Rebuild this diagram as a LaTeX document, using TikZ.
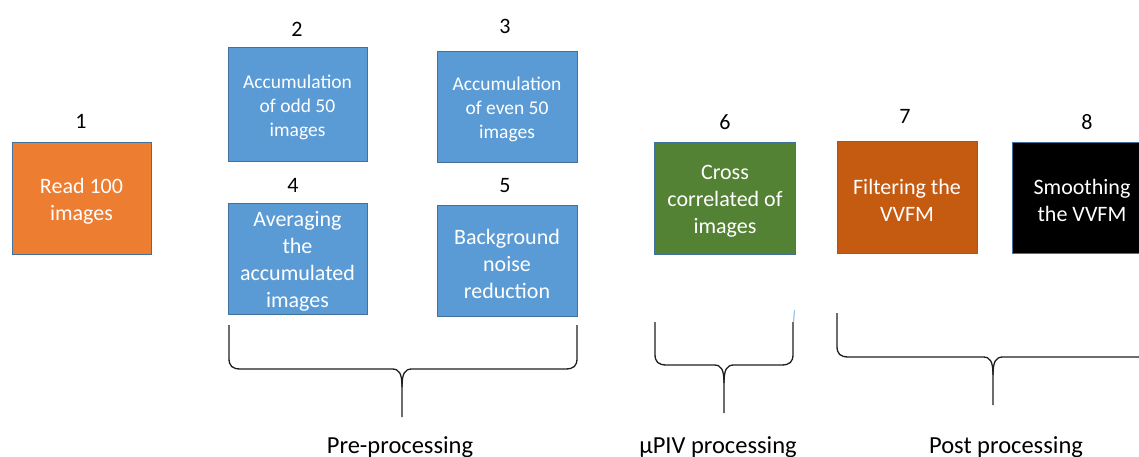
\documentclass[tikz,border=0pt]{standalone}
\usepackage{fontspec}
\setmainfont{Carlito}
\definecolor{cOrange}{HTML}{ED7D31}
\definecolor{cBlue}{HTML}{5B9BD5}
\definecolor{cGreen}{HTML}{548235}
\definecolor{cRust}{HTML}{C55A11}
\definecolor{cEdge}{HTML}{41719C}
\definecolor{cTick}{HTML}{9DC3E6}
\definecolor{cLine}{HTML}{1E1E1E}
\tikzset{
  procbox/.style={draw=cEdge, line width=0.9pt, inner sep=0pt, outer sep=0pt},
  boxtext/.style={text=white, align=center, inner sep=0pt, yshift=-3pt,
    font=\fontsize{22}{27}\selectfont},
  smalltext/.style={boxtext, font=\fontsize{19.5}{24}\selectfont},
  numlabel/.style={anchor=base, inner sep=0pt, font=\fontsize{22}{26}\selectfont},
  grouplabel/.style={anchor=base, inner sep=0pt, font=\fontsize{24.5}{28}\selectfont},
  bracepath/.style={draw=cLine, line width=1.3pt, line join=round}
}
\begin{document}
\begin{tikzpicture}[x=1pt,y=-1pt]
\useasboundingbox (0,0) rectangle (1139,457);
\clip (0,0) rectangle (1139,457);

% boxes
\node[procbox, fill=cOrange, minimum width=139, minimum height=112,
  label={[boxtext]center:Read 100\\images}] (b1) at (81.5,198) {};
\node[procbox, fill=cBlue, minimum width=139, minimum height=114,
  label={[smalltext]center:Accumulation\\of odd 50\\images}] (b2) at (297.5,104) {};
\node[procbox, fill=cBlue, minimum width=140, minimum height=111,
  label={[smalltext]center:Accumulation\\of even 50\\images}] (b3) at (507,106.5) {};
\node[procbox, fill=cBlue, minimum width=139, minimum height=111,
  label={[boxtext]center:Averaging\\the\\accumulated\\images}] (b4) at (297.5,258.5) {};
\node[procbox, fill=cBlue, minimum width=140, minimum height=111,
  label={[boxtext]center:Background\\noise\\reduction}] (b5) at (507,260.5) {};
\node[procbox, fill=cGreen, minimum width=141, minimum height=112,
  label={[boxtext]center:Cross\\correlated of\\images}] (b6) at (725,198) {};
\node[procbox, fill=cRust, minimum width=140, minimum height=112,
  label={[boxtext]center:Filtering the\\VVFM}] (b7) at (907,197) {};
\node[procbox, fill=black, minimum width=140, minimum height=111,
  label={[boxtext]center:Smoothing\\the VVFM}] (b8) at (1082,197.5) {};

% numbers
\node[numlabel] (n1) at (81,129) {1};
\node[numlabel] (n2) at (297,37) {2};
\node[numlabel] (n3) at (505,34) {3};
\node[numlabel] (n4) at (293,192) {4};
\node[numlabel] (n5) at (505,193) {5};
\node[numlabel] (n6) at (725,130) {6};
\node[numlabel] (n7) at (905,124) {7};
\node[numlabel] (n8) at (1087,130) {8};

% brace: pre-processing
\path[bracepath] (229,325) -- (229,358) .. controls (229,366) and (232,369) .. (241,369) -- (392,369)
  .. controls (399,369) and (402,373) .. (402,387) -- (402,417);
\path[bracepath] (577,325) -- (577,358) .. controls (577,366) and (574,369) .. (565,369) -- (412,369)
  .. controls (405,369) and (402,373) .. (402,387);
\coordinate (preTip) at (402,417);

% brace: muPIV processing
\path[bracepath] (655,322) -- (655,354) .. controls (655,362) and (658,365) .. (667,365) -- (714,365)
  .. controls (721,365) and (724,369) .. (724,383) -- (724,413);
\path[bracepath] (793,322) -- (793,354) .. controls (793,362) and (790,365) .. (781,365) -- (734,365)
  .. controls (727,365) and (724,369) .. (724,383);
\draw[cTick, line width=1.2pt] (794.5,310) -- (793.5,322);
\coordinate (pivTip) at (724,413);

% brace: post processing
\path[bracepath] (837,313) -- (837,346) .. controls (837,354) and (840,357) .. (849,357) -- (983,357)
  .. controls (990,357) and (993,361) .. (993,375) -- (993,405);
\path[bracepath] (1160,357) -- (1003,357)
  .. controls (996,357) and (993,361) .. (993,375);
\coordinate (postTip) at (993,405);

% group labels
\node[grouplabel] (g1) at (400,453) {Pre-processing};
\node[grouplabel] (g2) at (718,453) {µPIV processing};
\node[grouplabel] (g3) at (1006,453) {Post processing};
\end{tikzpicture}
\end{document}
